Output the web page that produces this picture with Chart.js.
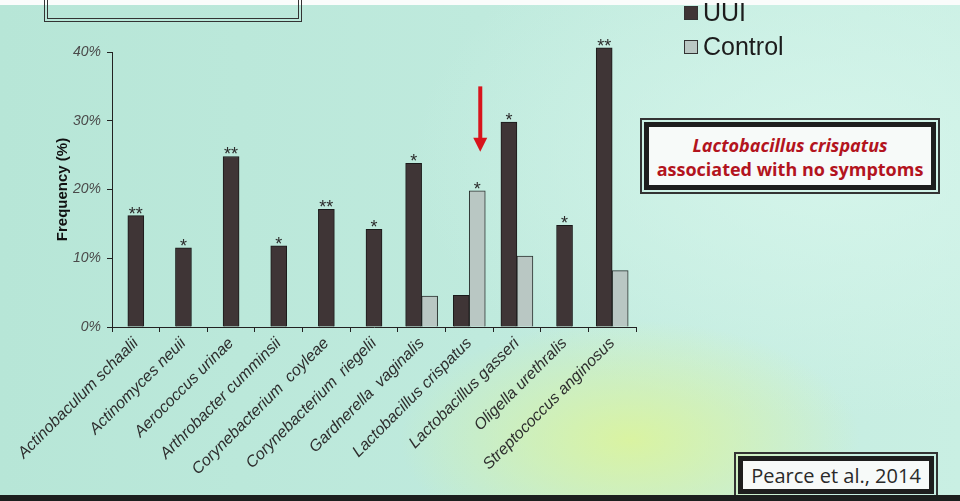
<!DOCTYPE html>
<html>
<head>
<meta charset="utf-8">
<script src="https://cdn.jsdelivr.net/npm/chart.js@4.4.1/dist/chart.umd.min.js"></script>
<style>
  html, body { margin: 0; padding: 0; }
  body {
    width: 960px; height: 501px; overflow: hidden; position: relative;
    background:
      radial-gradient(ellipse 230px 120px at 630px 440px, rgba(220,244,155,0.9), rgba(220,244,155,0) 100%),
      radial-gradient(ellipse 420px 260px at 830px 160px, rgba(215,246,236,0.85), rgba(215,246,236,0) 100%),
      linear-gradient(90deg, #b7e6d7 0%, #bfeadd 50%, #c9efe3 100%);
    font-family: "Liberation Sans", Arial, sans-serif;
  }
  #topband { position: absolute; left: 0; top: 0; width: 960px; height: 5px; background: #fafcfb; }
  #topframe { position: absolute; left: 47px; top: -20px; width: 250px; height: 38px;
    border: 1px solid #333; outline: 1px solid #333; outline-offset: 2px; border-top: none; }
  #bottomband { position: absolute; left: 0; top: 495px; width: 960px; height: 6px; background: #1c1f1e; }
  canvas { position: absolute; left: 0; top: 0; }
  .legend { position: absolute; left: 684px; font-size: 25px; color: #1c1c1c; line-height: 1; }
  .legend span.sw { display: inline-block; width: 12px; height: 12px; margin-right: 5px; border: 1px solid #333; vertical-align: 1px; }
  .note { position: absolute; background: #f7faf9; border: 5px solid #1e1e1e; outline: 2px solid #333; outline-offset: 2px; text-align: center; }
  #note1 { left: 644px; top: 122px; width: 292px; height: 68px; color: #b3141e; font-weight: bold; font-size: 18px; line-height: 24px; padding-top: 6px; box-sizing: border-box; font-family: "Open Sans", "DejaVu Sans", sans-serif; }
  #note2 { left: 738px; top: 456px; width: 196px; height: 38px; color: #2a2a2a; font-size: 20px; line-height: 29px; font-family: "Open Sans", "DejaVu Sans", sans-serif; box-sizing: border-box; }
</style>
</head>
<body>
<div id="topband"></div>
<div id="topframe"></div>
<canvas id="chart" width="960" height="501"></canvas>
<div class="legend" style="top:0px"><span class="sw" style="background:#3f3536"></span>UUI</div>
<div class="legend" style="top:34px"><span class="sw" style="background:#b9c7c3"></span>Control</div>
<div class="note" id="note1"><i>Lactobacillus crispatus</i><br>associated with no symptoms</div>
<div class="note" id="note2">Pearce et al., 2014</div>
<div id="bottomband"></div>
<script>
const categories = [
  "Actinobaculum schaalii", "Actinomyces neuii", "Aerococcus urinae",
  "Arthrobacter cumminsii", "Corynebacterium  coyleae", "Corynebacterium  riegelii",
  "Gardnerella  vaginalis", "Lactobacillus crispatus", "Lactobacillus gasseri",
  "Oligella urethralis", "Streptococcus anginosus"
];
const uuiValues = [16.2, 11.5, 24.8, 11.8, 17.1, 14.2, 23.8, 4.6, 29.8, 14.8, 40.6];
const controlValues = [null, null, null, null, null, null, 4.5, 19.8, 10.3, null, 8.2];
// significance marks: which series they sit on
const uuiStars = ["**", "*", "**", "*", "**", "*", "*", "", "*", "*", "**"];
const controlStars = ["", "", "", "", "", "", "", "*", "", "", ""];
const yTicks = [0, 10, 20, 30, 40];

const starPlugin = {
  id: "stars",
  afterDatasetsDraw(chart) {
    const ctx = chart.ctx;
    ctx.save();
    ctx.fillStyle = "#2b2b2b";
    ctx.font = "18px 'Liberation Sans', Arial, sans-serif";
    ctx.textAlign = "center";
    ctx.textBaseline = "bottom";
    [uuiStars, controlStars].forEach((marks, di) => {
      const meta = chart.getDatasetMeta(di);
      marks.forEach((m, i) => {
        if (!m || !meta.data[i]) return;
        const bar = meta.data[i];
        ctx.fillText(m, bar.x, bar.y + 8);
      });
    });
    // red arrow pointing at L. crispatus control bar
    const target = chart.getDatasetMeta(1).data[7];
    const y = chart.scales.y;
    const ax = target.x + 3;
    const y0 = y.getPixelForValue(35), y1 = y.getPixelForValue(25.5);
    ctx.strokeStyle = "#d8141c";
    ctx.fillStyle = "#d8141c";
    ctx.lineWidth = 4;
    ctx.beginPath();
    ctx.moveTo(ax, y0);
    ctx.lineTo(ax, y1 - 12);
    ctx.stroke();
    ctx.beginPath();
    ctx.moveTo(ax - 7, y1 - 14);
    ctx.lineTo(ax + 7, y1 - 14);
    ctx.lineTo(ax, y1);
    ctx.closePath();
    ctx.fill();
    ctx.restore();
  }
};

new Chart(document.getElementById("chart"), {
  type: "bar",
  data: {
    labels: categories,
    datasets: [
      {
        label: "UUI",
        data: uuiValues,
        backgroundColor: "#3f3536",
        borderColor: "#1a1a1a",
        borderWidth: 1
      },
      {
        label: "Control",
        data: controlValues,
        backgroundColor: "#b9c7c3",
        borderColor: "#2a3330",
        borderWidth: 1
      }
    ]
  },
  options: {
    responsive: false,
    animation: false,
    clip: false,
    skipNull: true,
    barThickness: 16,
    layout: { padding: { left: 44, right: 324, top: 52, bottom: 0 } },
    plugins: {
      legend: { display: false },
      tooltip: { enabled: false }
    },
    scales: {
      x: {
        afterFit(scale) { scale.height = 174; },
        border: { display: true, color: "#222", width: 1 },
        grid: { display: true, drawOnChartArea: false, drawTicks: true, tickLength: 5, color: "#222", offset: true },
        ticks: {
          color: "#2e2e2e",
          font: { family: "'Liberation Sans', Arial, sans-serif", size: 16, style: "italic" },
          minRotation: 45,
          maxRotation: 45,
          autoSkip: false,
          padding: 2
        }
      },
      y: {
        min: 0,
        max: 40,
        afterFit(scale) { scale.width = 68; },
        afterBuildTicks(scale) { scale.ticks = yTicks.map(v => ({ value: v })); },
        border: { display: true, color: "#222", width: 1 },
        grid: { display: true, drawOnChartArea: false, drawTicks: true, tickLength: 5, color: "#222" },
        title: {
          display: true,
          text: "Frequency (%)",
          color: "#111",
          font: { family: "'Liberation Sans', Arial, sans-serif", size: 15, weight: "bold" },
          padding: { top: 10, bottom: 0 }
        },
        ticks: {
          color: "#4a4a4a",
          font: { family: "'Liberation Sans', Arial, sans-serif", size: 14, style: "italic" },
          padding: 6,
          callback: v => v + "%"
        }
      }
    }
  },
  plugins: [starPlugin]
});
</script>
</body>
</html>
